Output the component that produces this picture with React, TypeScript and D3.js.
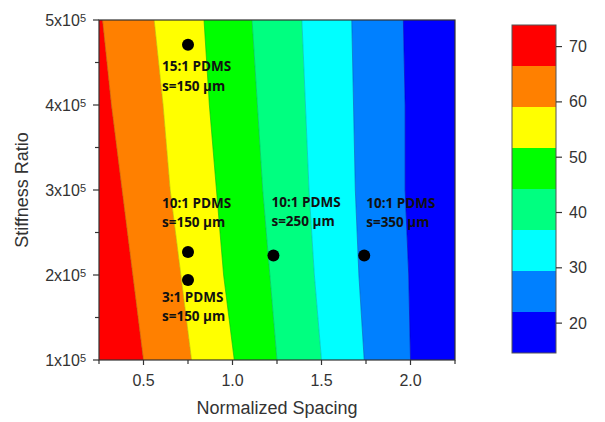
import React, { useEffect, useRef } from 'react';
import * as d3 from 'd3';

// stiffness ratio rows where the contour boundaries were read
const stiffnessRows = [1e5, 2e5, 3e5, 4e5, 5e5];

// normalized spacing of each contour boundary, one value per stiffness row
const contour66 = [0.5, 0.44, 0.38, 0.32, 0.27];
const contour59 = [0.77, 0.71, 0.65, 0.61, 0.56];
const contour52 = [1.01, 0.95, 0.91, 0.87, 0.84];
const contour44 = [1.25, 1.21, 1.17, 1.14, 1.11];
const contour37 = [1.5, 1.46, 1.43, 1.41, 1.39];
const contour29 = [1.74, 1.71, 1.69, 1.68, 1.67];
const contour22 = [2.0, 1.99, 1.97, 1.97, 1.96];

const bandColors = ['#ff0000', '#ff8000', '#ffff00', '#00ff00', '#00ff80', '#00ffff', '#0080ff', '#0000ff'];
const colorbarRange = [14.6, 73.9];
const colorbarTicks = [20, 30, 40, 50, 60, 70];

const spacingMajor = [0.5, 1.0, 1.5, 2.0];
const spacingMinor = [0.25, 0.75, 1.25, 1.75, 2.25];
const stiffnessMajor = [1e5, 2e5, 3e5, 4e5, 5e5];
const stiffnessMinor = [1.5e5, 2.5e5, 3.5e5, 4.5e5];

const samplePoints = [
  { spacing: 0.75, stiffness: 4.71e5, ratio: '15:1 PDMS', s: 's=150 µm' },
  { spacing: 0.75, stiffness: 2.27e5, ratio: '10:1 PDMS', s: 's=150 µm' },
  { spacing: 0.75, stiffness: 1.94e5, ratio: '3:1 PDMS', s: 's=150 µm' },
  { spacing: 1.23, stiffness: 2.23e5, ratio: '10:1 PDMS', s: 's=250 µm' },
  { spacing: 1.74, stiffness: 2.23e5, ratio: '10:1 PDMS', s: 's=350 µm' },
];
// label placement relative to its point (px)
const labelOffsets = [
  { dx: -26, dy: 26, gap: 20 },
  { dx: -26, dy: -44, gap: 19 },
  { dx: -26, dy: 22, gap: 19 },
  { dx: -2, dy: -48, gap: 19 },
  { dx: 2, dy: -47, gap: 19 },
];

const W = 605;
const H = 422;
const plot = { left: 99, right: 455, top: 20, bottom: 360 };
const bar = { left: 512, right: 556, top: 25, bottom: 353 };
const sansFont = '"Liberation Sans", Arial, sans-serif';

const App = () => {
  const svgRef = useRef<SVGSVGElement>(null);

  useEffect(() => {
    const svg = d3.select(svgRef.current);
    svg.selectAll('*').remove();

    const x = d3.scaleLinear().domain([0.25, 2.25]).range([plot.left, plot.right]);
    const y = d3.scaleLinear().domain([1e5, 5e5]).range([plot.bottom, plot.top]);

    const boundaries = [contour66, contour59, contour52, contour44, contour37, contour29, contour22];
    const leftEdge = stiffnessRows.map(() => x.domain()[0]);
    const rightEdge = stiffnessRows.map(() => x.domain()[1]);
    const edges = [leftEdge, ...boundaries, rightEdge];

    svg.append('defs').append('clipPath').attr('id', 'plotClip')
      .append('rect')
      .attr('x', plot.left).attr('y', plot.top)
      .attr('width', plot.right - plot.left).attr('height', plot.bottom - plot.top);

    const g = svg.append('g').attr('clip-path', 'url(#plotClip)');

    // filled bands between neighbouring boundaries
    bandColors.forEach((c, b) => {
      const lo = edges[b];
      const hi = edges[b + 1];
      const a = d3.area<number>()
        .y((d, i) => y(stiffnessRows[i]))
        .x0((d, i) => x(lo[i]))
        .x1((d, i) => x(hi[i]));
      g.append('path').datum(stiffnessRows).attr('d', a).attr('fill', c).attr('stroke', c).attr('stroke-width', 0.5);
    });

    // contour lines
    const line = d3.line<number>().x(d => x(d)).y((d, i) => y(stiffnessRows[i]));
    boundaries.forEach(bd => {
      g.append('path').datum(bd).attr('d', line)
        .attr('fill', 'none').attr('stroke', '#000').attr('stroke-opacity', 0.25).attr('stroke-width', 0.7);
    });

    // frame
    svg.append('rect')
      .attr('x', plot.left).attr('y', plot.top)
      .attr('width', plot.right - plot.left).attr('height', plot.bottom - plot.top)
      .attr('fill', 'none').attr('stroke', '#333').attr('stroke-width', 1.2);

    // x ticks
    spacingMajor.forEach(v => {
      svg.append('line').attr('x1', x(v)).attr('x2', x(v)).attr('y1', plot.bottom).attr('y2', plot.bottom + 5)
        .attr('stroke', '#333').attr('stroke-width', 1.2);
      svg.append('text').attr('x', x(v)).attr('y', plot.bottom + 26)
        .attr('text-anchor', 'middle').attr('font-family', sansFont).attr('font-size', 16).attr('fill', '#333')
        .text(d3.format('.1f')(v));
    });
    spacingMinor.forEach(v => {
      svg.append('line').attr('x1', x(v)).attr('x2', x(v)).attr('y1', plot.bottom).attr('y2', plot.bottom + 4)
        .attr('stroke', '#333').attr('stroke-width', 1.2);
    });

    // y ticks
    stiffnessMajor.forEach(v => {
      svg.append('line').attr('x1', plot.left - 6).attr('x2', plot.left).attr('y1', y(v)).attr('y2', y(v))
        .attr('stroke', '#333').attr('stroke-width', 1.2);
      const t = svg.append('text').attr('x', plot.left - 13).attr('y', y(v) + 6)
        .attr('text-anchor', 'end').attr('font-family', sansFont).attr('font-size', 16).attr('fill', '#333');
      t.append('tspan').text(`${v / 1e5}x10`);
      t.append('tspan').attr('dy', -4).attr('font-size', 11).text('5');
    });
    stiffnessMinor.forEach(v => {
      svg.append('line').attr('x1', plot.left - 4).attr('x2', plot.left).attr('y1', y(v)).attr('y2', y(v))
        .attr('stroke', '#333').attr('stroke-width', 1.2);
    });

    // axis titles
    svg.append('text').attr('x', (plot.left + plot.right) / 2).attr('y', 414)
      .attr('text-anchor', 'middle').attr('font-family', sansFont).attr('font-size', 18).attr('fill', '#333')
      .text('Normalized Spacing');
    svg.append('text').attr('transform', `translate(28,${(plot.top + plot.bottom) / 2}) rotate(-90)`)
      .attr('text-anchor', 'middle').attr('font-family', sansFont).attr('font-size', 18).attr('fill', '#333')
      .text('Stiffness Ratio');

    // sample points and labels
    samplePoints.forEach((p, i) => {
      const px = x(p.spacing);
      const py = y(p.stiffness);
      svg.append('circle').attr('cx', px).attr('cy', py).attr('r', 6).attr('fill', '#000');
      const o = labelOffsets[i];
      const t = svg.append('text').attr('font-family', '"Open Sans", sans-serif').attr('font-weight', 700)
        .attr('font-size', 13.5).attr('fill', '#111');
      t.append('tspan').attr('x', px + o.dx).attr('y', py + o.dy).text(p.ratio);
      t.append('tspan').attr('x', px + o.dx).attr('y', py + o.dy + o.gap).text(p.s);
    });

    // colorbar
    const cy = d3.scaleLinear().domain(colorbarRange).range([bar.bottom, bar.top]);
    const step = (colorbarRange[1] - colorbarRange[0]) / bandColors.length;
    bandColors.forEach((c, b) => {
      const hiVal = colorbarRange[1] - b * step;
      const loVal = hiVal - step;
      svg.append('rect').attr('x', bar.left).attr('width', bar.right - bar.left)
        .attr('y', cy(hiVal)).attr('height', cy(loVal) - cy(hiVal)).attr('fill', c);
    });
    svg.append('rect').attr('x', bar.left).attr('y', bar.top)
      .attr('width', bar.right - bar.left).attr('height', bar.bottom - bar.top)
      .attr('fill', 'none').attr('stroke', '#555').attr('stroke-width', 1);
    colorbarTicks.forEach(v => {
      svg.append('line').attr('x1', bar.right).attr('x2', bar.right + 6).attr('y1', cy(v)).attr('y2', cy(v))
        .attr('stroke', '#333').attr('stroke-width', 1.2);
      svg.append('text').attr('x', bar.right + 13).attr('y', cy(v)).attr('dy', '0.35em')
        .attr('font-family', sansFont).attr('font-size', 16).attr('fill', '#333').text(v);
    });
  }, []);

  return (
    <svg ref={svgRef} width={W} height={H}
      style={{ position: 'absolute', left: 0, top: 0, display: 'block', background: '#fff' }} />
  );
};

export default App;
